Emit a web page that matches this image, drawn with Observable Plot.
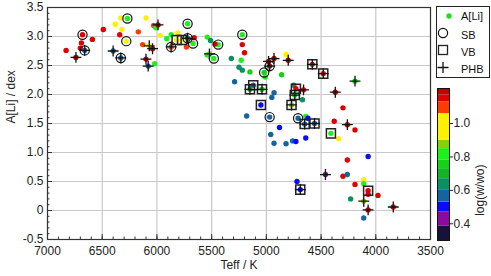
<!DOCTYPE html>
<html><head><meta charset="utf-8">
<script src="https://cdn.jsdelivr.net/npm/d3@7"></script>
<script src="https://cdn.jsdelivr.net/npm/@observablehq/plot@0.6"></script>
<style>
body{margin:0;background:#fff;}
#wrap{position:relative;width:491px;height:276px;font-family:"Liberation Sans",Arial,sans-serif;}
#wrap > svg{position:absolute;top:0;}
</style></head><body><div id="wrap"></div>
<script>
// Teff (K)
const teff = [6830,6740,6680,6690,6700,6660,6590,6490,6400,6330,6380,6330,6320,6340,6270,6280,6170,6100,6130,6070,
6040,6100,6080,6020,6030,6010,5990,5970,5910,5870,5870,5810,5820,5770,5720,5670,5660,5730,5720,5540,
5510,5440,5470,5520,5540,5480,5320,5220,5220,5200,5230,5250,5220,5150,5290,5180,4980,4930,4970,5020,
5010,4820,4800,4860,4580,4480,4190,4370,4300,4380,4260,4190,4410,4340,5150,5120,5040,4930,4950,5050,
4970,4880,4960,4930,4820,4760,4730,4640,4750,4730,4660,4740,4670,4770,4710,4640,4620,4650,4560,4260,
4070,4460,4300,4260,4720,4690,4190,4110,4110,4070,4070,3980,4230,4110,4070,3840,4110];
// A[Li] (dex)
const ali = [2.76,2.64,3.03,2.89,2.80,2.76,2.95,3.12,2.75,2.63,3.21,3.32,3.12,3.03,3.31,2.92,3.08,3.32,2.86,2.84,
2.79,2.61,2.49,2.53,3.19,3.15,3.20,3.02,2.96,3.03,2.82,3.06,2.94,2.94,2.97,2.88,2.98,2.82,3.22,2.99,
2.93,2.86,2.87,2.70,2.68,2.62,2.62,3.03,2.86,2.72,2.59,2.47,2.42,2.39,2.22,1.63,2.57,2.62,2.49,2.38,
2.30,2.69,2.59,2.34,2.52,2.36,2.23,2.04,1.77,1.54,1.48,1.39,1.33,1.24,2.09,2.16,2.09,2.03,1.95,1.82,
1.61,1.43,1.31,1.16,1.15,1.20,1.19,1.25,2.16,2.10,2.08,1.99,1.91,1.82,1.59,1.62,1.59,1.49,1.50,0.87,
0.93,0.62,0.59,0.62,0.50,0.36,0.45,0.53,0.46,0.34,0.28,0.26,0.20,0.16,0.01,0.06,-0.13];
// log(w/wo)
const logw = [1.15,1.19,1.15,1.15,1.15,0.57,1.15,1.15,0.57,0.57,1.0,1.0,1.0,1.15,0.82,1.0,1.09,1.0,1.09,1.0,
1.19,1.15,0.57,0.82,1.09,0.82,1.19,1.0,0.82,0.82,1.09,1.0,1.0,1.0,0.63,0.82,1.15,1.09,0.82,0.82,
0.65,0.80,1.15,0.87,0.82,0.80,0.65,0.82,1.15,1.15,0.80,0.65,0.65,0.76,0.57,0.57,1.19,1.19,1.19,0.76,
0.80,1.0,1.19,0.76,1.15,1.15,0.76,1.19,1.15,1.15,1.19,1.15,0.82,1.0,0.76,0.57,0.76,0.57,0.57,0.50,
0.57,0.50,0.57,0.57,0.57,0.57,0.50,0.50,0.65,1.15,1.15,0.76,0.65,0.87,0.57,0.82,0.50,0.57,0.57,1.15,
0.50,0.42,1.15,0.57,0.50,0.50,1.15,1.0,0.82,1.15,1.15,1.15,0.65,0.87,1.19,1.15,0.57];
// binary type: S = SB, V = VB, P = PHB
const kind = ["","P","S","","","SP","","","P","SP","","","","","S","S","","","","P",
"P","P","P","","","","P","","","","SP","","V","V","SP","S","","","S","",
"","S","","P","","S","","S","","","","","","","","","P","P","SP","S",
"","","P","","VP","VP","P","P","","","P","","V","","VP","V","VP","","","V",
"S","","","","","","","","","V","P","VP","","VP","S","","","VP","VP","",
"","P","","","","VP","","","","V","","","","P","P","P",""];

const xMajor = [7000,6500,6000,5500,5000,4500,4000,3500];
const xMinor = d3.range(3500,7001,100);
const yMajor = [-0.5,0,0.5,1,1.5,2,2.5,3,3.5];
const yMinor = d3.range(-5,36,1).map(d=>d/10);
const cbTicks = [0.4,0.6,0.8,1.0];
const wThresholds = [0.385,0.47,0.53,0.60,0.67,0.73,0.78,0.85,0.90,1.06,1.13,1.17];
const wColors = ["#15133a","#8c0aa0","#0a0aff","#1464a0","#0a9060","#14b428","#14d214","#1ef01e","#86d20a","#fff000","#ff3c00","#e00000","#c40000"];
const wExtent = [0.30,1.21];
const xTitle = "Teff / K", yTitle = "A[Li] / dex", cTitle = "log(w/wo)";
const legendItems = ["A[Li]","SB","VB","PHB"];

const data = teff.map((t,i)=>({T:t, A:ali[i], w:logw[i], f:kind[i]}));
const bands = d3.pairs([wExtent[0], ...wThresholds, wExtent[1]]).map(([lo,hi])=>({lo,hi,mid:(lo+hi)/2}));
const color = {type:"threshold", domain:wThresholds, range:wColors};
const font = {fontFamily:"Liberation Sans, Arial, sans-serif", fontSize:"12px", color:"#222", background:"transparent"};
const fmtY = d => d===0 ? "0" : (d<0 ? "-" + Math.abs(d).toFixed(1) : d.toFixed(1));

const main = Plot.plot({
  width:491, height:276, marginLeft:47, marginRight:61, marginTop:7, marginBottom:37,
  style:font,
  x:{domain:[7000,3500], label:null},
  y:{domain:[-0.5,3.5], label:null},
  color,
  marks:[
    Plot.gridX(xMajor,{stroke:"#c8c8c8", strokeOpacity:1, strokeWidth:1.2}),
    Plot.gridY(yMajor,{stroke:"#c8c8c8", strokeOpacity:1, strokeWidth:1.2}),
    Plot.axisX(xMinor,{tickSize:-2.5, tickFormat:()=>"", label:null, stroke:"#333"}),
    Plot.axisX(xMajor,{tickSize:-5, tickFormat:()=>"", label:null, stroke:"#333"}),
    Plot.axisX(xMajor,{tickSize:0, tickPadding:7, tickFormat:d=>String(d), label:null}),
    Plot.axisY(yMinor,{tickSize:-2.5, tickFormat:()=>"", label:null, stroke:"#333"}),
    Plot.axisY(yMajor,{tickSize:-5, tickFormat:()=>"", label:null, stroke:"#333"}),
    Plot.axisY(yMajor,{tickSize:0, tickPadding:4, tickFormat:fmtY, label:null}),
    Plot.text([xTitle],{text:d=>d, frameAnchor:"bottom", dy:29, fill:"#222"}),
    Plot.text([yTitle],{text:d=>d, frameAnchor:"left", rotate:-90, dx:-36, fill:"#222"}),
    Plot.frame({stroke:"#333", strokeWidth:1.2}),
    Plot.dot(data,{x:"T", y:"A", fill:"w", r:2.7}),
    Plot.dot(data.filter(d=>d.f.includes("S")),{x:"T", y:"A", r:4.6, stroke:"#111", strokeWidth:1.2}),
    Plot.dot(data.filter(d=>d.f.includes("V")),{x:"T", y:"A", symbol:"square", r:5.1, stroke:"#222", strokeWidth:1.5}),
    Plot.dot(data.filter(d=>d.f.includes("P")),{x:"T", y:"A", symbol:"plus", r:3.6, stroke:"#111", strokeWidth:1.3})
  ]
});
main.style.left = "0px";

const bar = Plot.plot({
  width:54, height:276, marginLeft:1, marginRight:41, marginTop:88, marginBottom:36,
  style:font,
  y:{domain:wExtent, label:null},
  color,
  marks:[
    Plot.rect(bands,{y1:"lo", y2:"hi", fill:"mid"}),
    Plot.frame({stroke:"#111"}),
    Plot.axisY(cbTicks,{anchor:"right", tickSize:3, tickPadding:1, tickFormat:d=>d.toFixed(1), label:null}),
    Plot.text([cTitle],{text:d=>d, frameAnchor:"right", rotate:-90, dx:31, fill:"#222"})
  ]
});
bar.style.left = "436px";

const wrap = document.getElementById("wrap");
wrap.appendChild(main);
wrap.appendChild(bar);

const leg = d3.create("svg").attr("width",55).attr("height",73)
  .style("position","absolute").style("left","436px").style("top","6px")
  .style("font-family","Liberation Sans, Arial, sans-serif").style("font-size","11px");
leg.append("rect").attr("x",0.5).attr("y",0.5).attr("width",53).attr("height",71).attr("fill","#fff").attr("stroke","#222");
const rows = [10,27,44,61.5];
leg.append("circle").attr("cx",13).attr("cy",rows[0]).attr("r",2.7).attr("fill","#1ee01e");
leg.append("circle").attr("cx",7).attr("cy",rows[1]).attr("r",4.6).attr("fill","none").attr("stroke","#111").attr("stroke-width",1.2);
leg.append("rect").attr("x",2.5).attr("y",rows[2]-4.5).attr("width",9).attr("height",9).attr("fill","none").attr("stroke","#222").attr("stroke-width",1.3);
leg.append("path").attr("d",`M1.5,${rows[3]}h11M7,${rows[3]-5.5}v11`).attr("stroke","#111").attr("stroke-width",1.3);
legendItems.forEach((t,i)=>leg.append("text").attr("x",25).attr("y",rows[i]+4+(i===0?0:1.5)).attr("fill","#111").text(t));
wrap.appendChild(leg.node());
</script></body></html>
